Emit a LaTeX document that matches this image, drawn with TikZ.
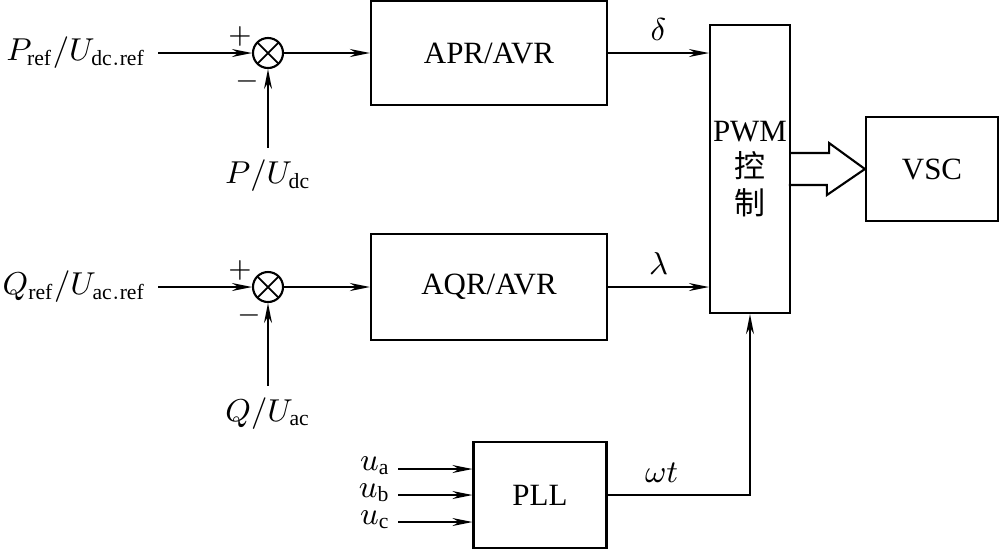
\documentclass[tikz,border=0pt]{standalone}
\usepackage{fontspec}
\setmainfont{Liberation Serif}
\newfontfamily\cjk{Noto Sans CJK SC}
\usetikzlibrary{arrows.meta}

\begin{document}
\begin{tikzpicture}[
    x=0.01cm, y=-0.01cm,
    font=\fontsize{8.8}{10.5}\selectfont,
    >={Stealth[length=2mm, width=0.8mm]},
    block/.style={draw, line width=0.6pt, inner sep=0pt},
    sum/.style={draw, circle, line width=0.6pt, minimum size=0.3cm, inner sep=0pt,
      path picture={\draw[line width=0.5pt] (path picture bounding box.north west) -- (path picture bounding box.south east)
        (path picture bounding box.north east) -- (path picture bounding box.south west);}},
    sign/.style={inner sep=0pt, font=\fontsize{8}{9}\selectfont},
    phase/.style={anchor=east, inner sep=0pt},
    link/.style={->, line width=0.5pt}
  ]
    \useasboundingbox (0,0) rectangle (1000,550);

    \node[block, minimum width=2.36cm, minimum height=1.04cm] (apr) at (489,53) {APR/AVR};
    \node[block, minimum width=2.36cm, minimum height=1.06cm] (aqr) at (489,287) {AQR/AVR};
    \node[block, minimum width=0.8cm, minimum height=2.88cm, align=center] (pwm) at (750,169)
      {PWM\\{\cjk 控}\\{\cjk 制}};
    \node[block, minimum width=1.32cm, minimum height=1.04cm] (vsc) at (932,169) {VSC};
    \node[block, minimum width=1.33cm, minimum height=1.06cm] (pll) at (540,495) {PLL};

    \node[sum] (s1) at (268,53) {};
    \node[sum] (s2) at (268,287) {};
    \node[sign] at (240,36) {$+$};
    \node[sign] at (247,81) {$-$};
    \node[sign] at (240,270) {$+$};
    \node[sign] at (249,315) {$-$};

    \node[anchor=east] (pin) at (158,53) {$P_{\mathrm{ref}}/U_{\mathrm{dc.ref}}$};
    \node (pfb) at (268,176) {$P/U_{\mathrm{dc}}$};
    \node[anchor=east] (qin) at (158,287) {$Q_{\mathrm{ref}}/U_{\mathrm{ac.ref}}$};
    \node (qfb) at (268,414) {$Q/U_{\mathrm{ac}}$};

    \node[phase] (ua) at (391,466) {$u_{\mathrm{a}}$};
    \node[phase] (ub) at (391,493) {$u_{\mathrm{b}}$};
    \node[phase] (uc) at (391,520) {$u_{\mathrm{c}}$};

    \draw[link] (pin) -- (s1);
    \draw[link] (pfb) -- (s1);
    \draw[link] (s1) -- (apr);
    \draw[link] (qin) -- (s2);
    \draw[link] (qfb) -- (s2);
    \draw[link] (s2) -- (aqr);

    \draw[link] (apr.east) -- node[above] {$\delta$} (apr.east -| pwm.west);
    \draw[link] (aqr.east) -- node[above] {$\lambda$} (aqr.east -| pwm.west);
    \draw[link] (pll.east) -| node[pos=0.19, above] {$\omega t$} (pwm.south);

    \draw[link] ([xshift=0.07cm]ua.east) ++(0,3) -- (pll.west |- 0,469);
    \draw[link] ([xshift=0.07cm]ub.east) ++(0,2) -- (pll.west |- 0,495);
    \draw[link] ([xshift=0.07cm]uc.east) ++(0,2) -- (pll.west |- 0,522);

    \draw[line width=0.6pt] (pwm.east) ++(0,-16) -- ++(38,0) -- ++(0,-10) -- (vsc.west)
      -- ++(-38,26) -- ++(0,-10) -- ++(-38,0);
  \end{tikzpicture}
\end{document}
